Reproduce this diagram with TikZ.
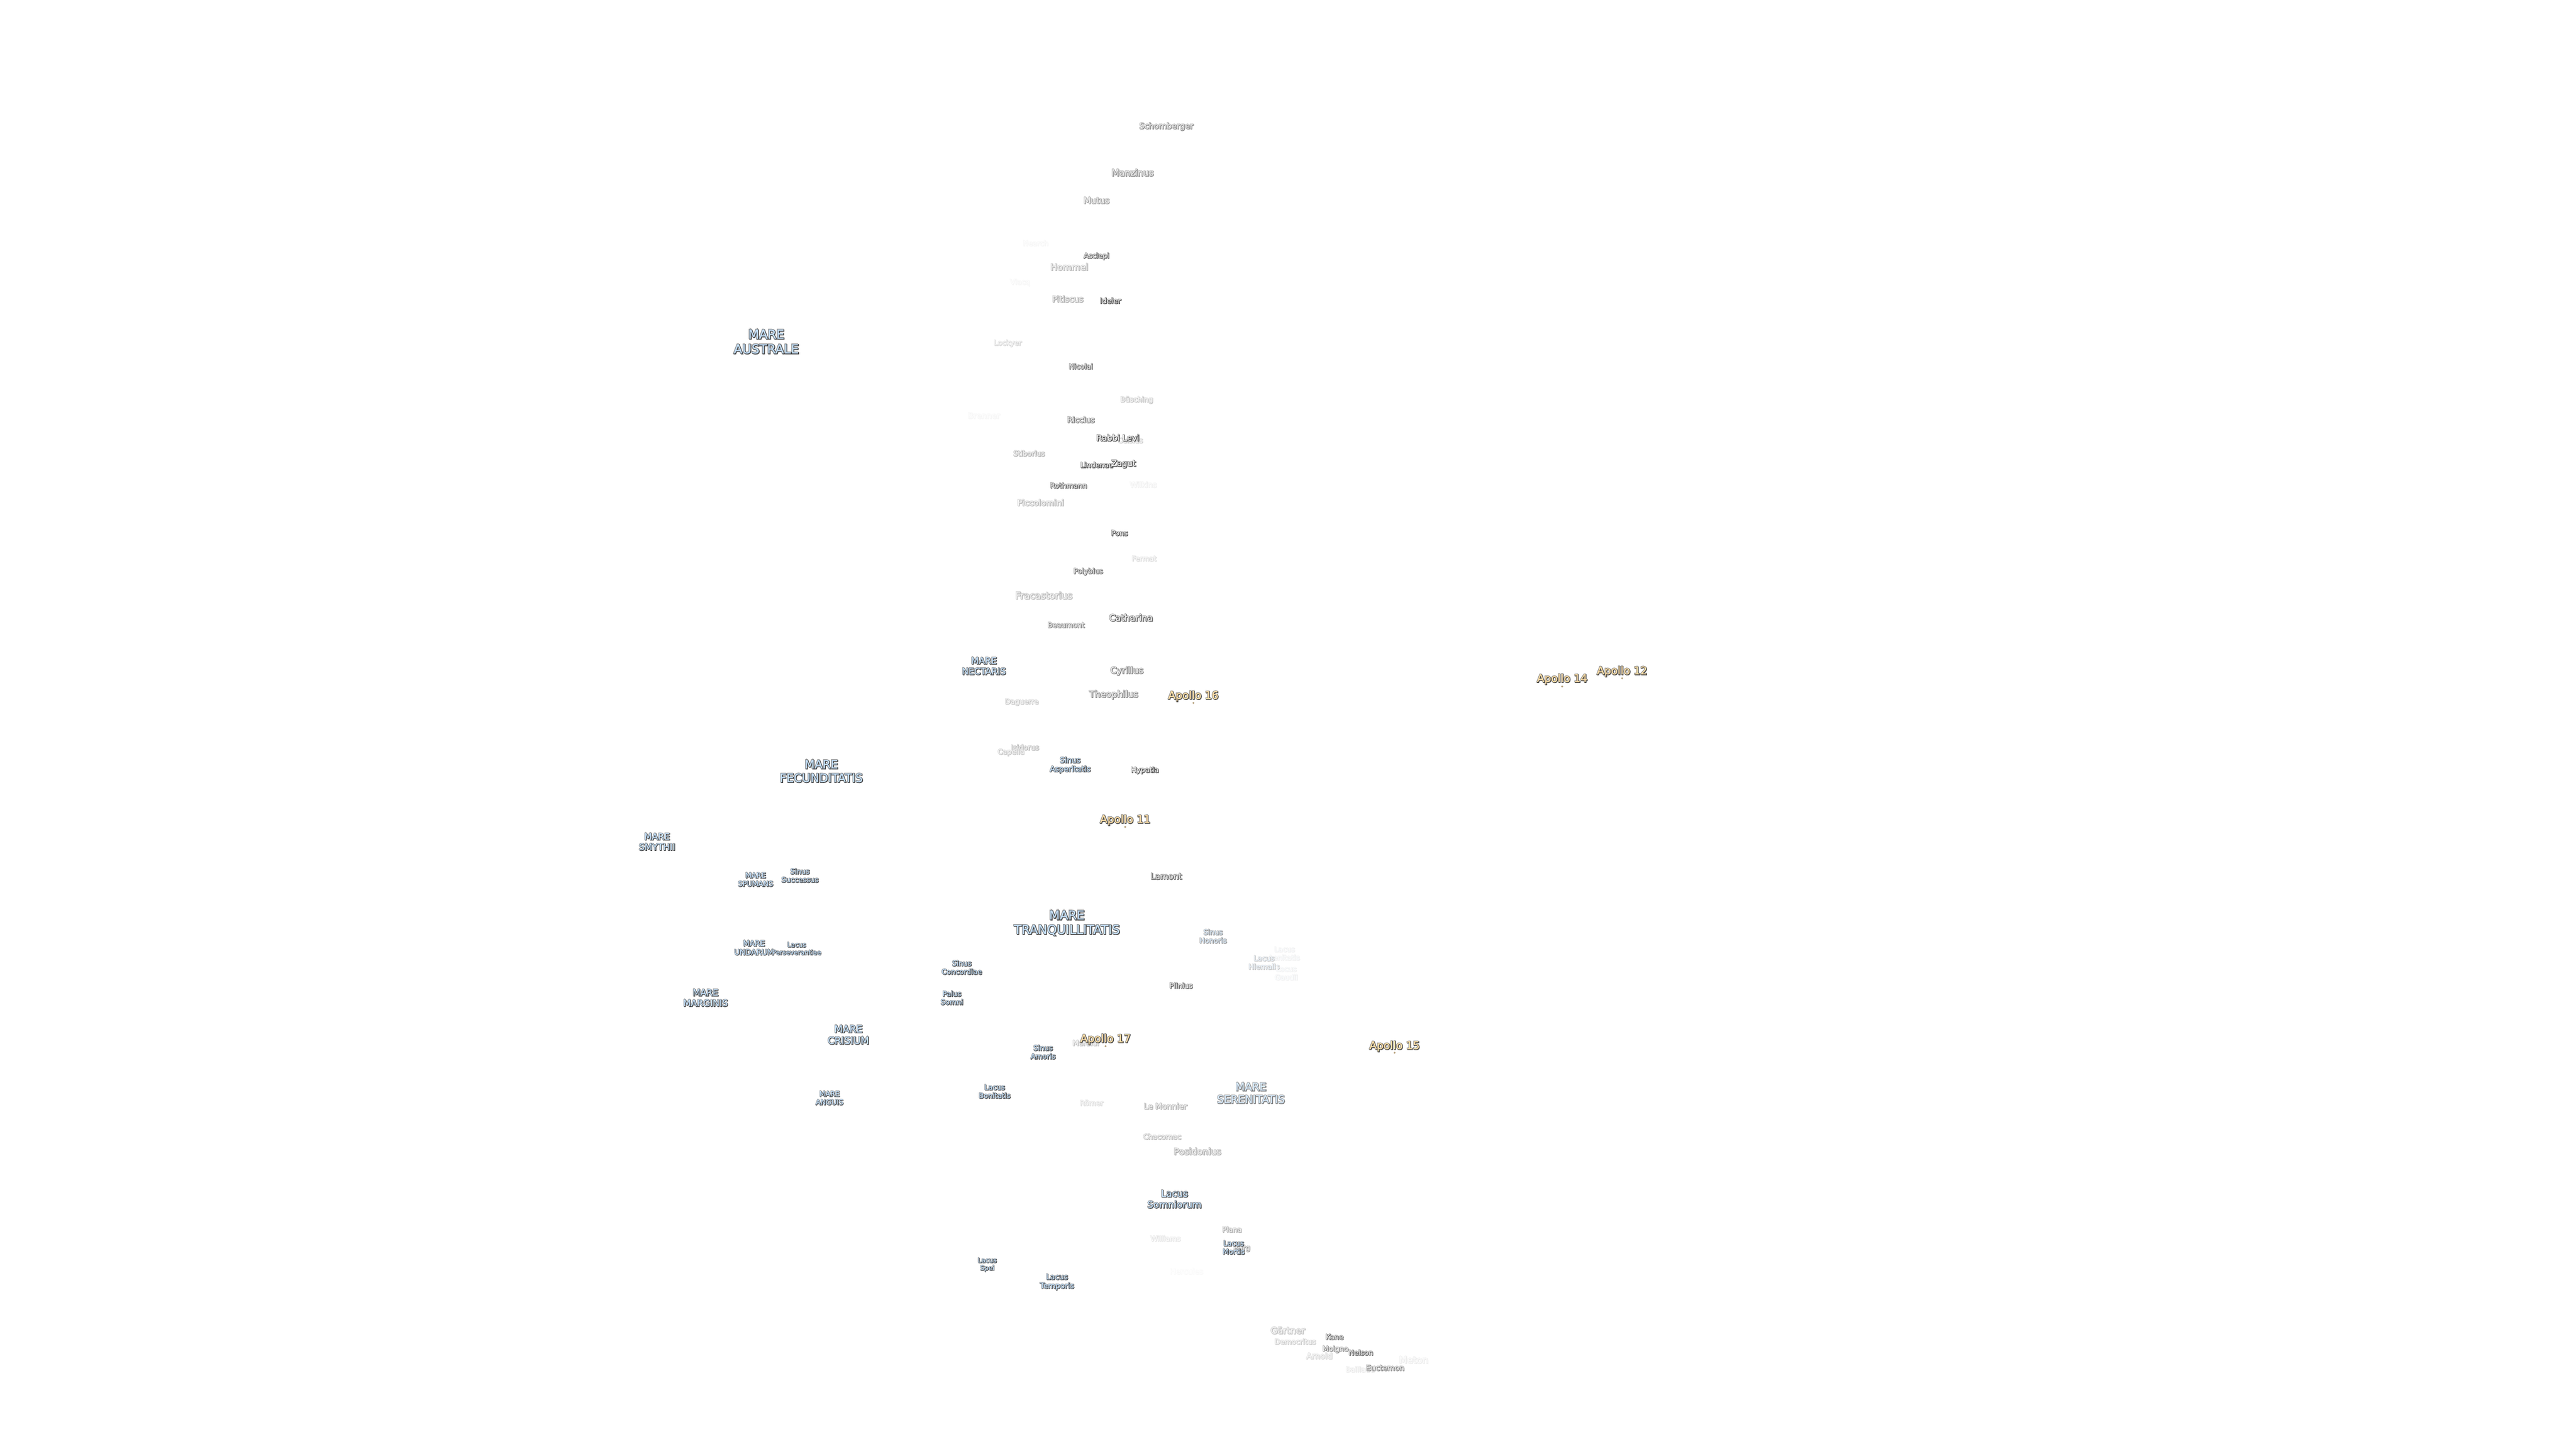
\documentclass[tikz,border=0pt]{standalone}
\usepackage{fontspec}
\setmainfont{DejaVu Sans}
\newfontfamily\haloface[FakeBold=9]{DejaVu Sans}
\newfontfamily\fillface[FakeBold=1]{DejaVu Sans}
\definecolor{craterfill}{HTML}{DCDCDC}
\definecolor{marefill}{HTML}{C4DFF8}
\definecolor{apollofill}{HTML}{FFDFA8}
\definecolor{halocol}{HTML}{8E8E8E}
\definecolor{shadowcol}{HTML}{444444}
\tikzset{lbl/.style={inner sep=0pt,outer sep=0pt,align=center}}
% #1 name, #2 x, #3 y, #4 size px, #5 opacity %, #6 fill colour, #7 text
\newcommand{\lab}[7]{%
  \pgfmathsetmacro{\fsz}{#4*0.28453}%
  \pgfmathsetmacro{\lsz}{#4*0.28453*1.17}%
  \colorlet{tfill}{#6!#5!white}%
  \colorlet{thalo}{halocol!#5!white}%
  \colorlet{tshad}{shadowcol!#5!white}%
  \node[lbl,text=thalo,font={\haloface\fontsize{\fsz pt}{\lsz pt}\selectfont},xshift=-0.12pt,yshift=0.12pt] (#1h) at (#2,#3) {#7};
  \node[lbl,text=tshad,font={\haloface\fontsize{\fsz pt}{\lsz pt}\selectfont},xshift=0.24pt,yshift=-0.24pt] (#1s) at (#2,#3) {#7};
  \node[lbl,text=tfill,font={\fillface\fontsize{\fsz pt}{\lsz pt}\selectfont},xshift=-0.03pt,yshift=0.03pt] (#1) at (#2,#3) {#7};
}
% landing mark: #1 name, #2 x, #3 y
\newcommand{\site}[3]{%
  \node[circle,inner sep=0pt,minimum size=1.3pt,fill=apollofill!70!black,draw=none] (#1) at (#2,#3) {};
}
\begin{document}
\begin{tikzpicture}[x=0.03673cm,y=-0.03673cm]
\useasboundingbox (0,0) rectangle (1568.2,882.1);
\lab{a1}{710}{77}{18}{62}{craterfill}{Schomberger}
\lab{a2}{689.5}{105}{20}{62}{craterfill}{Manzinus}
\lab{a3}{667.5}{122}{19}{52}{craterfill}{Mutus}
\lab{a4}{630.5}{148}{16}{5}{craterfill}{Nearch}
\lab{a5}{651}{162.5}{20}{40}{craterfill}{Hommel}
\lab{a6}{667.5}{156}{16}{90}{craterfill}{Asclepi}
\lab{a7}{621}{172}{16}{5}{craterfill}{Vlacq}
\lab{a8}{650}{182}{18.5}{46}{craterfill}{Pitiscus}
\lab{a9}{676}{183}{16.5}{100}{craterfill!50!white}{Ideler}
\lab{a10}{613.5}{209}{16}{22}{craterfill}{Lockyer}
\lab{a11}{658}{223}{16}{80}{craterfill}{Nicolai}
\lab{a12}{692}{243.5}{16}{32}{craterfill}{Büsching}
\lab{a13}{599}{253}{18}{5}{craterfill}{Brenner}
\lab{a14}{658}{255.5}{17.5}{75}{craterfill}{Riccius}
\lab{a15}{688}{268}{16}{28}{craterfill}{Celsius}
\lab{a16}{680.5}{266.5}{18.5}{100}{craterfill!30!white}{Rabbi Levi}
\lab{a17}{626.5}{276}{16}{45}{craterfill}{Stiborius}
\lab{a18}{667.7}{283}{16}{95}{craterfill!50!white}{Lindenau}
\lab{a19}{684}{282.5}{18.5}{100}{craterfill!30!white}{Zagut}
\lab{a20}{650.5}{295.5}{16}{85}{craterfill}{Rothmann}
\lab{a21}{696}{295}{17}{8}{craterfill}{Wilkins}
\lab{a22}{633.5}{306}{18.5}{40}{craterfill}{Piccolomini}
\lab{a23}{681.5}{324.5}{16}{100}{craterfill!40!white}{Pons}
\lab{a24}{696.5}{340}{15.6}{20}{craterfill}{Fermat}
\lab{a25}{662.5}{348}{16}{80}{craterfill}{Polybius}
\lab{a26}{635.5}{362.5}{21}{40}{craterfill}{Fracastorius}
\lab{a27}{688.5}{376}{20}{90}{craterfill!50!white}{Catharina}
\lab{a28}{649}{380.5}{16}{65}{craterfill}{Beaumont}
\lab{a29}{686}{408.5}{20}{70}{craterfill}{Cyrillus}
\lab{a30}{678}{423}{20}{65}{craterfill}{Theophilus}
\lab{a31}{622}{427.5}{16}{32}{craterfill}{Daguerre}
\lab{a32}{624}{455}{16}{40}{craterfill}{Isidorus}
\lab{a33}{615.5}{458}{16}{32}{craterfill}{Capella}
\lab{a34}{697}{469}{16}{95}{craterfill!50!white}{Hypatia}
\lab{a35}{710}{533.5}{18.5}{85}{craterfill}{Lamont}
\lab{a36}{719}{600}{16}{90}{craterfill!50!white}{Plinius}
\lab{a37}{661}{635}{16}{34}{craterfill}{Maraldi}
\lab{a38}{664.5}{671.5}{16}{20}{craterfill}{Römer}
\lab{a39}{709.5}{673.5}{17.5}{46}{craterfill}{Le Monnier}
\lab{a40}{707.5}{692}{16}{40}{craterfill}{Chacornac}
\lab{a41}{729}{701}{20}{46}{craterfill}{Posidonius}
\lab{a42}{750}{748.5}{16}{46}{craterfill}{Plana}
\lab{a43}{709.5}{754}{16}{15}{craterfill}{Williams}
\lab{a44}{756}{760}{16}{55}{craterfill}{Bürg}
\lab{a45}{722.3}{774}{17}{3}{craterfill}{Hercules}
\lab{a46}{784}{810}{20}{34}{craterfill}{Gärtner}
\lab{a47}{788.5}{816.8}{16}{28}{craterfill}{Democritus}
\lab{a48}{812.4}{814}{16}{85}{craterfill}{Kane}
\lab{a49}{803.2}{825.5}{18}{22}{craterfill}{Arnold}
\lab{a50}{813}{821.5}{16}{65}{craterfill}{Moigno}
\lab{a51}{828.5}{823.5}{16}{85}{craterfill}{Nelson}
\lab{a52}{860.6}{828}{21}{10}{craterfill}{Meton}
\lab{a53}{828}{833.7}{16}{13}{craterfill}{Baillaud}
\lab{a54}{843.2}{832.8}{17}{65}{craterfill}{Euctemon}
% maria
\lab{m1}{466.5}{208}{28}{100}{marefill}{MARE\\AUSTRALE}
\lab{m2}{599}{405.5}{20}{100}{marefill}{MARE\\NECTARIS}
\lab{m3}{500}{469.5}{26}{100}{marefill}{MARE\\FECUNDITATIS}
\lab{m4}{400}{512.5}{20}{100}{marefill}{MARE\\SMYTHII}
\lab{m5}{460}{535.5}{16}{100}{marefill}{MARE\\SPUMANS}
\lab{m6}{487}{533}{16}{100}{marefill}{Sinus\\Successus}
\lab{m7}{651.5}{465.8}{17}{100}{marefill}{Sinus\\Asperitatis}
\lab{m8}{649.5}{562}{27.5}{100}{marefill}{MARE\\TRANQUILLITATIS}
\lab{m9}{738.5}{570}{16}{60}{marefill}{Sinus\\Honoris}
\lab{m10}{782}{580.5}{16}{8}{marefill}{Lacus\\Lenitatis}
\lab{m11}{769.5}{586}{16}{30}{marefill}{Lacus\\Hiemalis}
\lab{m12}{783}{592.5}{16}{8}{marefill}{Lacus\\Gaudii}
\lab{m13}{585.5}{589}{16}{100}{marefill}{Sinus\\Concordiae}
\lab{m14}{459}{577}{17}{100}{marefill}{MARE\\UNDARUM}
\lab{m15}{485}{577.5}{14.6}{100}{marefill}{Lacus\\Perseverantiae}
\lab{m16}{429.5}{607.5}{20}{100}{marefill}{MARE\\MARGINIS}
\lab{m17}{579.5}{607.5}{16}{100}{marefill}{Palus\\Somni}
\lab{m18}{516.5}{630}{22}{100}{marefill}{MARE\\CRISIUM}
\lab{m19}{635}{640.5}{16}{100}{marefill}{Sinus\\Amoris}
\lab{m20}{761.5}{665.5}{24}{70}{marefill}{MARE\\SERENITATIS}
\lab{m21}{605.5}{664.5}{16}{100}{marefill}{Lacus\\Bonitatis}
\lab{m22}{505}{668.5}{16}{100}{marefill}{MARE\\ANGUIS}
\lab{m23}{715}{730}{21}{100}{marefill}{Lacus\\Somniorum}
\lab{m24}{751}{759.5}{16}{100}{marefill}{Lacus\\Mortis}
\lab{m25}{601}{770}{14.7}{100}{marefill}{Lacus\\Spei}
\lab{m26}{643.5}{780.5}{17}{100}{marefill}{Lacus\\Temporis}
% Apollo sites
\lab{p16}{726.5}{423.8}{24}{100}{apollofill}{Apollo 16}
\site{s16}{726.5}{428}
\lab{p11}{685}{499.3}{24}{100}{apollofill}{Apollo 11}
\site{s11}{685}{503.5}
\lab{p17}{673}{632.8}{24}{100}{apollofill}{Apollo 17}
\site{s17}{673}{637}
\lab{p15}{849}{637}{24}{100}{apollofill}{Apollo 15}
\site{s15}{849}{641}
\lab{p14}{951}{413.5}{24}{100}{apollofill}{Apollo 14}
\site{s14}{951}{418}
\lab{p12}{987.5}{408.8}{24}{100}{apollofill}{Apollo 12}
\site{s12}{987.5}{413}
\end{tikzpicture}
\end{document}
